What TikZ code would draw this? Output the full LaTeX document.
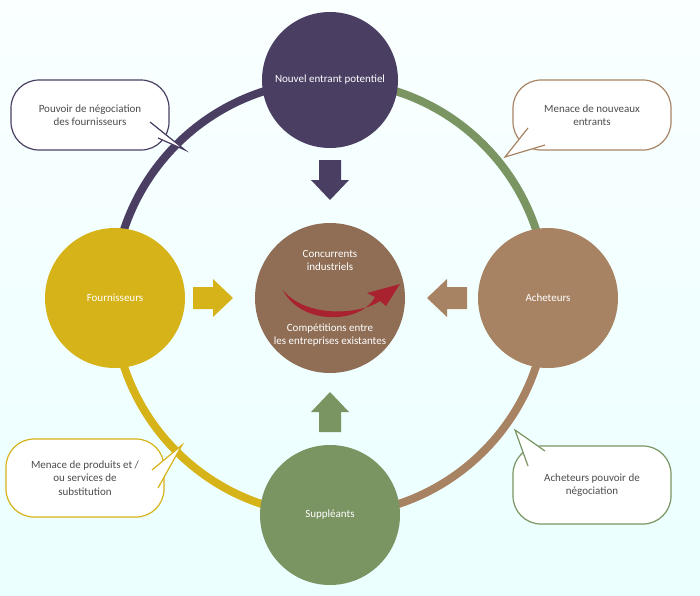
\documentclass[tikz,border=0pt]{standalone}
\usepackage{fontspec}
\setmainfont{Carlito}
\usetikzlibrary{shadings,calc}
\definecolor{cpur}{HTML}{4A3F63}
\definecolor{cgrn}{HTML}{7A9462}
\definecolor{cbrn}{HTML}{A88363}
\definecolor{cyel}{HTML}{D6B318}
\definecolor{ccen}{HTML}{8F6E55}
\definecolor{cred}{HTML}{A8232F}
\begin{document}
\begin{tikzpicture}[x=1pt,y=-1pt,
 ball/.style={circle,minimum size=140pt,inner sep=0pt,text=white,font=\fontsize{11}{13}\selectfont,align=center},
 ring/.style={line width=8pt},
 call/.style={draw,line width=1.2pt,fill=white,rounded corners=28pt,minimum width=158pt,minimum height=70pt,align=center,font=\fontsize{11}{13.5}\selectfont,text=black!70},
 tail/.style={fill=white,line width=1.2pt,line join=miter}]
\useasboundingbox (0,0) rectangle (700,595);
\shade[top color=white!90!cyan!20,bottom color=cyan!8] (0,0) rectangle (700,595);
\coordinate (o) at (330,298);
\draw[ring,cpur] ($(o)+(180:217)$) arc[start angle=180,end angle=270,radius=217];
\draw[ring,cgrn] ($(o)+(270:217)$) arc[start angle=270,end angle=360,radius=217];
\draw[ring,cbrn] ($(o)+(0:217)$) arc[start angle=0,end angle=90,radius=217];
\draw[ring,cyel] ($(o)+(90:217)$) arc[start angle=90,end angle=180,radius=217];
\node[ball,fill=cpur,minimum size=136pt] (top) at (330,80) {Nouvel entrant potentiel};
\node[ball,fill=cyel] (left) at (115,298) {Fournisseurs};
\node[ball,fill=cbrn] (right) at (548,298) {Acheteurs};
\node[ball,fill=cgrn] (bot) at (330,515) {Suppléants};
\node[ball,fill=ccen,minimum size=150pt] (cen) at (330,298) {};
\node[text=white,font=\fontsize{11}{13}\selectfont,align=center] (t1) at (330,260) {Concurrents\\industriels};
\node[text=white,font=\fontsize{11}{13}\selectfont,align=center] (t2) at (330,335) {Compétitions entre\\les entreprises existantes};
\fill[cred] (283,290) .. controls (300,325) and (360,325) .. (375,297) -- (367,293) -- (400,284) -- (386,306) -- (380,301) .. controls (360,315) and (305,318) .. (283,290) -- cycle;
\fill[cpur] (319,160) -- (341,160) -- (341,180) -- (349,180) -- (330,200) -- (311,180) -- (319,180) -- cycle;
\fill[cyel] (193,287) -- (213,287) -- (213,279) -- (233,298) -- (213,317) -- (213,309) -- (193,309) -- cycle;
\fill[cbrn] (467,287) -- (447,287) -- (447,279) -- (427,298) -- (447,317) -- (447,309) -- (467,309) -- cycle;
\fill[cgrn] (319,432) -- (341,432) -- (341,412) -- (349,412) -- (330,392) -- (311,412) -- (319,412) -- cycle;
\node[call,draw=cpur] (c1) at (90,115) {Pouvoir de négociation\\des fournisseurs};
\draw[tail,draw=cpur] (150,122) -- (185,150) -- (158,138);
\node[call,draw=cbrn] (c2) at (592,115) {Menace de nouveaux\\entrants};
\draw[tail,draw=cbrn] (528,128) -- (505,157) -- (545,145);
\node[call,draw=cyel,minimum height=78pt] (c3) at (85,478) {Menace de produits et /\\ou services de\\substitution};
\draw[tail,draw=cyel] (152,470) -- (182,445) -- (158,488);
\node[call,draw=cgrn,minimum height=78pt] (c4) at (592,485) {Acheteurs pouvoir de\\négociation};
\draw[tail,draw=cgrn] (528,466) -- (515,430) -- (545,451);
\end{tikzpicture}
\end{document}
